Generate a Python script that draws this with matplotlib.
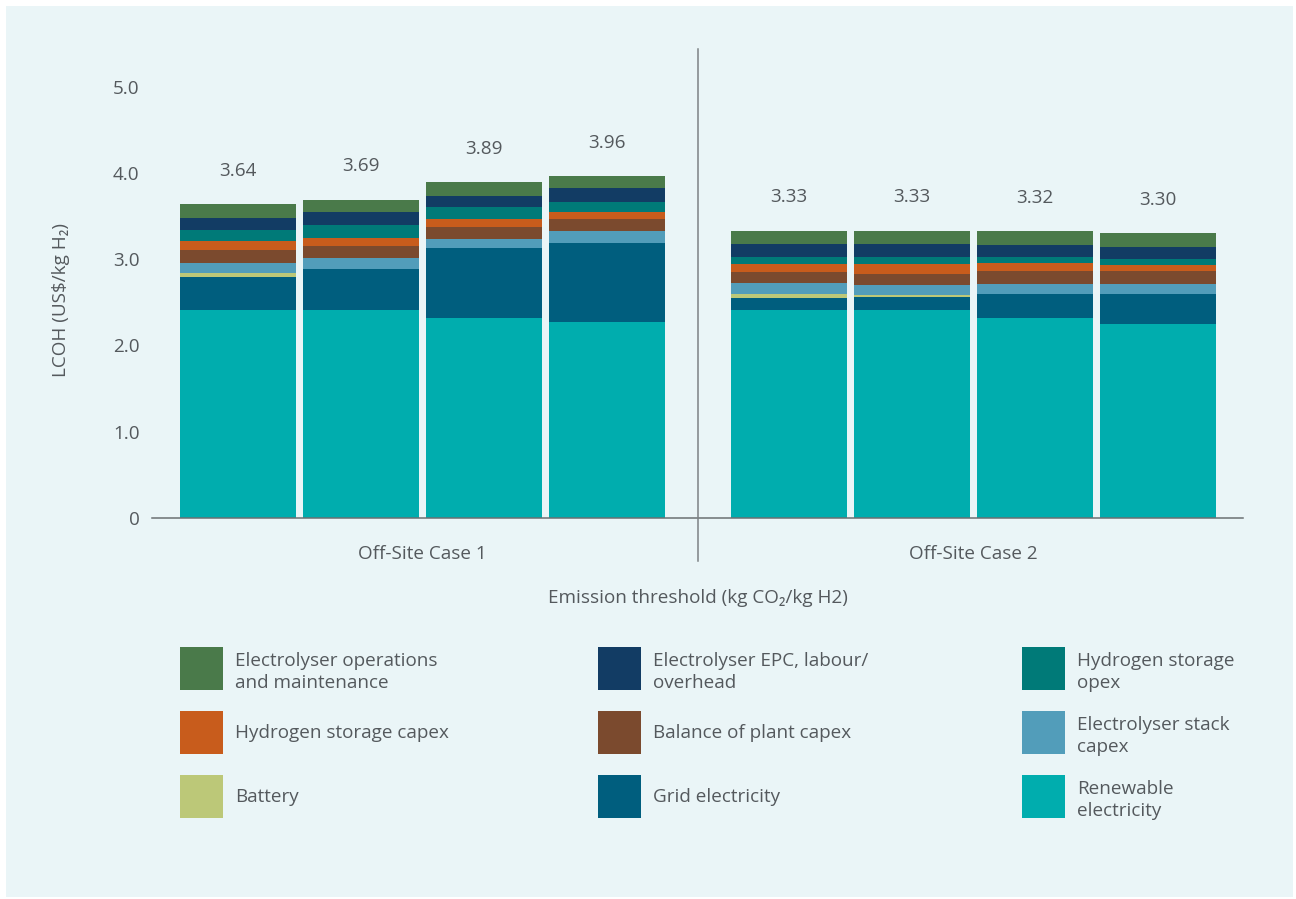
import matplotlib
matplotlib.use("Agg")
import matplotlib.pyplot as plt
from matplotlib.patches import Rectangle
import numpy as np

plt.rcParams['font.family'] = ['Open Sans', 'DejaVu Sans']

# Scenario groups and bars
groups = ["Off-Site Case 1", "Off-Site Case 2"]
bars_per_group = 4

# Cost components (US$/kg H2), stacked from bottom to top
renewable = [2.41, 2.41, 2.32, 2.27, 2.41, 2.41, 2.32, 2.25]
grid      = [0.38, 0.48, 0.81, 0.92, 0.14, 0.15, 0.27, 0.34]
battery   = [0.05, 0.00, 0.00, 0.00, 0.05, 0.02, 0.00, 0.00]
stack     = [0.12, 0.12, 0.10, 0.13, 0.12, 0.12, 0.12, 0.12]
bop       = [0.14, 0.14, 0.14, 0.14, 0.13, 0.13, 0.15, 0.15]
h2_capex  = [0.11, 0.10, 0.09, 0.09, 0.09, 0.11, 0.09, 0.07]
h2_opex   = [0.13, 0.14, 0.14, 0.11, 0.09, 0.09, 0.07, 0.07]
epc       = [0.14, 0.16, 0.13, 0.16, 0.14, 0.14, 0.14, 0.14]
om        = [0.16, 0.14, 0.16, 0.14, 0.16, 0.16, 0.16, 0.16]

components = [
    ("Renewable\nelectricity", renewable, "#00ADAE"),
    ("Grid electricity", grid, "#005E7E"),
    ("Battery", battery, "#BCC878"),
    ("Electrolyser stack\ncapex", stack, "#529DBA"),
    ("Balance of plant capex", bop, "#7B4A2E"),
    ("Hydrogen storage capex", h2_capex, "#C85C1C"),
    ("Hydrogen storage\nopex", h2_opex, "#007A78"),
    ("Electrolyser EPC, labour/\noverhead", epc, "#123C64"),
    ("Electrolyser operations\nand maintenance", om, "#4A7A4A"),
]

yticks = [0, 1, 2, 3, 4, 5]
ytick_labels = ["0", "1.0", "2.0", "3.0", "4.0", "5.0"]

TEXT = "#54595D"
BG = "#EAF5F7"
FS = 13.6

fig = plt.figure(figsize=(12.96, 8.99), dpi=100)
fig.patch.set_facecolor("white")
fig.patches.append(Rectangle((6 / 1296, 2 / 899), 1287 / 1296, 891 / 899,
                             transform=fig.transFigure, facecolor=BG,
                             edgecolor="none", zorder=-10))

ax = fig.add_axes([152 / 1296, 381 / 899, 1091 / 1296, 469 / 899])
ax.set_facecolor("none")

gap = 182 / 123
x = np.concatenate([np.arange(bars_per_group),
                    np.arange(bars_per_group) + (bars_per_group - 1) + gap])
width = 116 / 123

bottom = np.zeros(len(x))
for name, vals, color in components:
    vals = np.array(vals)
    ax.bar(x, vals, width=width, bottom=bottom, color=color, linewidth=0, zorder=2)
    bottom += vals

totals = bottom
for xi, t in zip(x, totals):
    ax.annotate(f"{t:.2f}", (xi, t), xytext=(0, 24), textcoords="offset points",
                ha="center", va="center", fontsize=FS, color=TEXT)

ax.set_xlim(-0.70, x[-1] + 85 / 123)
ax.set_ylim(0, 469 / 86.3)
ax.set_yticks(yticks)
ax.set_yticklabels(ytick_labels)
ax.tick_params(axis="y", length=0, pad=9, labelsize=FS, labelcolor=TEXT)
ax.set_xticks([])
for s in ("top", "right", "left"):
    ax.spines[s].set_visible(False)
ax.spines["bottom"].set_color("#6B7073")
ax.spines["bottom"].set_linewidth(1.1)

# divider between the two cases
xdiv = (x[bars_per_group - 1] + x[bars_per_group]) / 2
ax.plot([xdiv, xdiv], [-43 / 86.3, 469 / 86.3], color="#7D8285", lw=1.1,
        clip_on=False, zorder=3)

# group labels
for g, gname in enumerate(groups):
    cx = x[g * bars_per_group:(g + 1) * bars_per_group].mean()
    ax.text(cx, -36 / 86.3, gname, ha="center", va="center", fontsize=FS,
            color=TEXT)

fig.text(698 / 1296, 1 - 598 / 899, "Emission threshold (kg CO\u2082/kg H2)",
         ha="center", va="center", fontsize=FS, color=TEXT)
fig.text(61 / 1296, 1 - 300 / 899, "LCOH (US$/kg H\u2082)", rotation=90,
         ha="center", va="center", fontsize=FS, color=TEXT)

# legend grid (3 columns x 3 rows, top-most component first)
col_x = [180, 598, 1022]
row_y = [668, 732, 796]
for i, (name, vals, color) in enumerate(components[::-1]):
    r, c = divmod(i, 3)
    px, py = col_x[c], row_y[r]
    fig.patches.append(Rectangle((px / 1296, 1 - (py + 21.5) / 899), 43 / 1296, 43 / 899,
                                 transform=fig.transFigure, facecolor=color,
                                 edgecolor="none", zorder=2))
    ty = py + (4 if "\n" in name else 1)
    fig.text((px + 55) / 1296, 1 - ty / 899, name, ha="left", va="center",
             fontsize=FS, color=TEXT, linespacing=1.22)

fig.savefig("out.png", dpi=100)
